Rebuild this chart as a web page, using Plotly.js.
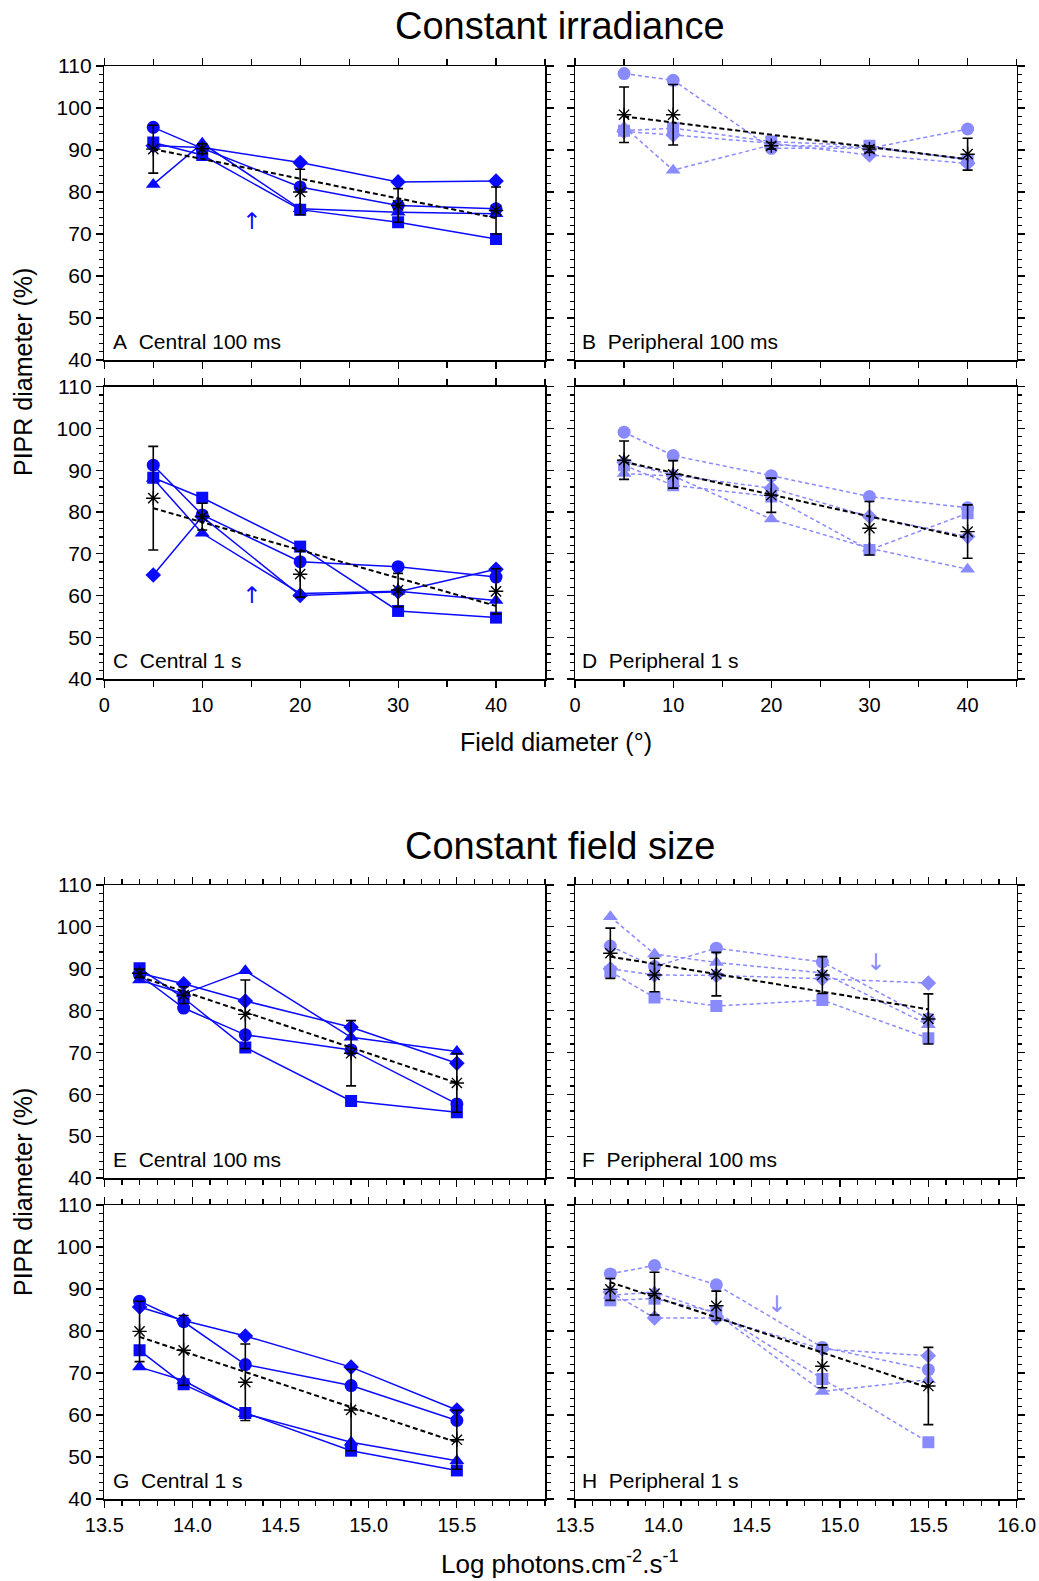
<!DOCTYPE html>
<html>
<head>
<meta charset="utf-8">
<script src="https://cdn.plot.ly/plotly-3.0.1.min.js"></script>
<style>html,body{margin:0;padding:0;background:#fff;}#chart{width:1039px;height:1581px;}</style>
</head>
<body>
<div id="chart"></div>
<script>
// ---- Data ----
const fieldDiameter = [5, 10, 20, 30, 40];
const logPhotons = [13.7, 13.95, 14.3, 14.9, 15.5];

// A Central 100 ms (constant irradiance)
const A_circle   = [95.4, 90.4, 81.2, 76.8, 76.0];
const A_square   = [91.8, 88.8, 75.8, 72.8, 68.8];
const A_triangle = [81.8, 91.6, 76.0, 75.2, 74.8];
const A_diamond  = [91.0, 90.6, 87.0, 82.4, 82.6];
const A_mean     = [90.2, 90.3, 80.0, 76.8, 75.6];
const A_sd       = [5.7, 1.2, 5.4, 4.0, 5.6];
const A_fit      = [90.2, 73.8];

// B Peripheral 100 ms
const B_circle   = [108.2, 106.6, 90.4, 90.4, 95.0];
const B_square   = [94.6, 95.2, 92.0, 91.0, 87.6];
const B_triangle = [95.5, 85.2, 91.2, 90.6, 87.8];
const B_diamond  = [94.4, 93.6, 91.6, 88.8, 86.8];
const B_mean     = [98.4, 98.4, 91.0, 90.2, 89.0];
const B_sd       = [6.6, 7.2, 0.8, 0.8, 3.8];
const B_fit      = [98.0, 87.8];

// C Central 1 s
const C_circle   = [91.2, 79.3, 68.1, 66.9, 64.4];
const C_square   = [88.2, 83.4, 71.7, 56.3, 54.7];
const C_triangle = [88.0, 74.9, 60.5, 61.0, 58.8];
const C_diamond  = [64.9, 78.9, 60.0, 60.9, 66.3];
const C_mean     = [83.3, 78.9, 65.1, 61.3, 61.0];
const C_sd       = [12.4, 3.2, 5.5, 4.0, 5.4];
const C_fit      = [80.9, 57.5];

// D Peripheral 1 s
const D_circle   = [99.1, 93.5, 88.7, 83.7, 81.0];
const D_square   = [91.2, 86.4, 83.7, 70.9, 79.7];
const D_triangle = [89.2, 88.6, 78.3, 71.3, 66.3];
const D_diamond  = [91.9, 88.8, 85.7, 78.9, 74.1];
const D_mean     = [92.4, 89.0, 84.0, 76.1, 75.3];
const D_sd       = [4.6, 3.3, 4.1, 6.4, 6.4];
const D_fit      = [92.0, 73.7];

// E Central 100 ms (constant field size)
const E_circle   = [88.5, 80.6, 74.2, 70.6, 57.7];
const E_square   = [90.1, 83.0, 71.2, 58.4, 55.7];
const E_triangle = [87.3, 84.0, 89.5, 73.6, 70.2];
const E_diamond  = [88.9, 86.4, 82.3, 76.0, 67.4];
const E_mean     = [88.9, 83.7, 79.1, 69.8, 62.7];
const E_sd       = [1.0, 2.0, 8.2, 7.8, 7.0];
const E_fit      = [88.1, 62.7];

// F Peripheral 100 ms
const F_circle   = [95.4, 90.5, 94.9, 91.6, 78.0];
const F_square   = [89.3, 83.1, 81.1, 82.5, 73.4];
const F_triangle = [102.4, 93.5, 91.5, 89.0, 76.6];
const F_diamond  = [90.0, 88.5, 88.4, 87.6, 86.6];
const F_mean     = [93.7, 88.5, 88.7, 88.5, 78.0];
const F_sd       = [6.0, 4.0, 5.2, 4.4, 6.0];
const F_fit      = [92.9, 80.3];

// G Central 1 s
const G_circle   = [87.1, 82.2, 72.0, 67.0, 58.7];
const G_square   = [75.4, 67.3, 60.5, 51.5, 46.8];
const G_triangle = [71.4, 68.2, 60.3, 53.5, 49.1];
const G_diamond  = [85.7, 82.5, 78.8, 71.4, 61.2];
const G_mean     = [79.9, 75.4, 67.8, 61.2, 54.1];
const G_sd       = [7.2, 8.3, 9.1, 9.7, 7.0];
const G_fit      = [78.6, 53.5];

// H Peripheral 1 s
const H_circle   = [93.6, 95.6, 91.0, 76.1, 70.8];
const H_square   = [87.3, 87.7, 84.5, 68.6, 53.5];
const H_triangle = [88.5, 89.3, 84.1, 65.6, 68.4];
const H_diamond  = [89.3, 83.1, 83.1, 75.7, 74.1];
const H_mean     = [89.9, 88.9, 86.0, 71.6, 66.9];
const H_sd       = [2.6, 5.1, 3.5, 5.1, 9.2];
const H_fit      = [91.6, 66.5];

// Tick labels
const yTickVals = [40, 50, 60, 70, 80, 90, 100, 110];
const xTickValsField = [0, 10, 20, 30, 40];
const xTickValsLogLeft = [13.5, 14.0, 14.5, 15.0, 15.5];
const xTickTextLogLeft = ['13.5', '14.0', '14.5', '15.0', '15.5'];
const xTickValsLogRight = [13.5, 14.0, 14.5, 15.0, 15.5, 16.0];
const xTickTextLogRight = ['13.5', '14.0', '14.5', '15.0', '15.5', '16.0'];

// Panel texts
const panelLabels = ['A\u00a0 Central 100 ms', 'B\u00a0 Peripheral 100 ms', 'C\u00a0 Central 1 s', 'D\u00a0 Peripheral 1 s',
                     'E\u00a0 Central 100 ms', 'F\u00a0 Peripheral 100 ms', 'G\u00a0 Central 1 s', 'H\u00a0 Peripheral 1 s'];

// Arrows
const arrowPanels = [0, 2, 5, 7];
const arrowX = [15, 15, 15.2, 14.64];
const arrowY = [73, 60, 91.5, 86.5];
const arrowGlyph = ['\u2191', '\u2191', '\u2193', '\u2193'];

// ---- Build ----
const BLUE = '#0a0aff';
const LIGHT = '#8a8aff';
const FONT = 'Liberation Sans, Arial, sans-serif';

const panels = [
  {c: A_circle, s: A_square, t: A_triangle, d: A_diamond, m: A_mean, sd: A_sd, fit: A_fit, x: fieldDiameter, periph: false},
  {c: B_circle, s: B_square, t: B_triangle, d: B_diamond, m: B_mean, sd: B_sd, fit: B_fit, x: fieldDiameter, periph: true},
  {c: C_circle, s: C_square, t: C_triangle, d: C_diamond, m: C_mean, sd: C_sd, fit: C_fit, x: fieldDiameter, periph: false},
  {c: D_circle, s: D_square, t: D_triangle, d: D_diamond, m: D_mean, sd: D_sd, fit: D_fit, x: fieldDiameter, periph: true},
  {c: E_circle, s: E_square, t: E_triangle, d: E_diamond, m: E_mean, sd: E_sd, fit: E_fit, x: logPhotons, periph: false},
  {c: F_circle, s: F_square, t: F_triangle, d: F_diamond, m: F_mean, sd: F_sd, fit: F_fit, x: logPhotons, periph: true},
  {c: G_circle, s: G_square, t: G_triangle, d: G_diamond, m: G_mean, sd: G_sd, fit: G_fit, x: logPhotons, periph: false},
  {c: H_circle, s: H_square, t: H_triangle, d: H_diamond, m: H_mean, sd: H_sd, fit: H_fit, x: logPhotons, periph: true}
];

const W = 1039, H = 1581;
const fx = p => p / W;
const fy = p => 1 - p / H;
const xDomLeft = [fx(104.3), fx(545)];
const xDomRight = [fx(575), fx(1016.7)];
const yDoms = [[fy(360), fy(66)], [fy(679), fy(386.7)], [fy(1178), fy(885)], [fy(1499), fy(1205)]];

const data = [];
const layout = {
  width: W, height: H, autosize: false,
  margin: {l: 0, r: 0, t: 0, b: 0},
  paper_bgcolor: '#fff', plot_bgcolor: '#fff',
  showlegend: false,
  font: {family: FONT, size: 21, color: '#000'},
  annotations: []
};

panels.forEach((p, i) => {
  const n = i + 1;
  const xa = n === 1 ? 'x' : 'x' + n;
  const ya = n === 1 ? 'y' : 'y' + n;
  const col = p.periph ? LIGHT : BLUE;
  const dash = p.periph ? '4px,3px' : 'solid';
  const series = [[p.c, 'circle', 13], [p.s, 'square', 12], [p.t, 'triangle-up', 13], [p.d, 'diamond', 12]];
  series.forEach(([vals, sym, sz]) => {
    data.push({
      x: p.x, y: vals, xaxis: xa, yaxis: ya, type: 'scatter', mode: 'lines+markers',
      line: {color: col, width: 1.5, dash: dash},
      marker: {symbol: sym, size: sz, color: col},
      hoverinfo: 'skip'
    });
  });
  // regression fit line
  data.push({
    x: [p.x[0], p.x[p.x.length - 1]], y: p.fit, xaxis: xa, yaxis: ya, type: 'scatter', mode: 'lines',
    line: {color: '#000', width: 2, dash: '5px,3px'}, hoverinfo: 'skip'
  });
  // mean with SD
  data.push({
    x: p.x, y: p.m, xaxis: xa, yaxis: ya, type: 'scatter', mode: 'markers',
    marker: {symbol: 'asterisk-open', size: 12, color: '#000', line: {color: '#000', width: 1.4}},
    error_y: {type: 'data', array: p.sd, visible: true, color: '#000', thickness: 1.6, width: 5},
    hoverinfo: 'skip'
  });

  const isLeft = i % 2 === 0;
  const row = Math.floor(i / 2);
  const isField = i < 4;
  const showX = (row === 1 || row === 3);
  const xKey = n === 1 ? 'xaxis' : 'xaxis' + n;
  const yKey = n === 1 ? 'yaxis' : 'yaxis' + n;
  const axBase = {
    showline: true, linecolor: '#000', linewidth: 1.5, mirror: 'allticks',
    ticks: 'outside', tickcolor: '#000', tickwidth: 1.2, showgrid: false, zeroline: false,
    fixedrange: true
  };
  const tv = isField ? xTickValsField : (isLeft ? xTickValsLogLeft : xTickValsLogRight);
  const tt = isField ? xTickValsField.map(String) : (isLeft ? xTickTextLogLeft : xTickTextLogRight);
  const xaxis = Object.assign({}, axBase, {
    domain: isLeft ? xDomLeft : xDomRight,
    anchor: ya,
    range: isField ? [0, 45] : [13.5, 16.0],
    tickmode: 'array', tickvals: tv, ticktext: tt,
    showticklabels: showX,
    ticklen: 7,
    tickfont: {family: FONT, size: 20},
    minor: isField ? {tickmode: 'linear', tick0: 5, dtick: 10, ticklen: 6, ticks: 'outside', tickcolor: '#000', tickwidth: 1.2, showgrid: false}
                   : {tickmode: 'linear', tick0: 13.5, dtick: 0.1, ticklen: 5, ticks: 'outside', tickcolor: '#000', tickwidth: 1.2, showgrid: false}
  });
  const yaxis = Object.assign({}, axBase, {
    domain: yDoms[row],
    anchor: xa,
    range: [40, 110],
    tickmode: 'array', tickvals: yTickVals, ticktext: yTickVals.map(String),
    showticklabels: isLeft,
    ticklen: 7,
    tickfont: {family: FONT, size: 21},
    minor: {tickmode: 'linear', tick0: 40, dtick: 2, ticklen: 4, ticks: 'outside', tickcolor: '#000', tickwidth: 1.2, showgrid: false}
  });
  layout[xKey] = xaxis;
  layout[yKey] = yaxis;

  // panel label
  const labelX = isLeft ? 111 : 580;
  const bottomPx = [360, 679, 1178, 1499][row];
  layout.annotations.push({
    text: panelLabels[i], xref: 'paper', yref: 'paper',
    x: fx(labelX), y: fy(bottomPx - 19), xanchor: 'left', yanchor: 'middle',
    showarrow: false, font: {family: FONT, size: 21, color: '#000'}
  });
});

// arrows
arrowPanels.forEach((pi, k) => {
  const n = pi + 1;
  layout.annotations.push({
    text: arrowGlyph[k], xref: n === 1 ? 'x' : 'x' + n, yref: n === 1 ? 'y' : 'y' + n,
    x: arrowX[k], y: arrowY[k], showarrow: false, xanchor: 'center', yanchor: 'middle',
    font: {family: 'DejaVu Sans, sans-serif', size: 23, color: panels[pi].periph ? LIGHT : BLUE}
  });
});

// titles and axis titles
const texts = [
  ['Constant irradiance', 560, 26, 38, 0],
  ['Constant field size', 560, 846, 38, 0],
  ['Field diameter (°)', 556, 742, 25, 0],
  ['Log photons.cm<sup>-2</sup>.s<sup>-1</sup>', 560, 1562, 26, 0],
  ['PIPR diameter (%)', 23, 372, 25, -90],
  ['PIPR diameter (%)', 23, 1192, 25, -90]
];
texts.forEach(([t, x, y, s, ang]) => {
  layout.annotations.push({
    text: t, xref: 'paper', yref: 'paper', x: fx(x), y: fy(y),
    xanchor: 'center', yanchor: 'middle', showarrow: false, textangle: ang,
    font: {family: FONT, size: s, color: '#000'}
  });
});

Plotly.newPlot('chart', data, layout, {staticPlot: true, displayModeBar: false});
</script>
</body>
</html>
